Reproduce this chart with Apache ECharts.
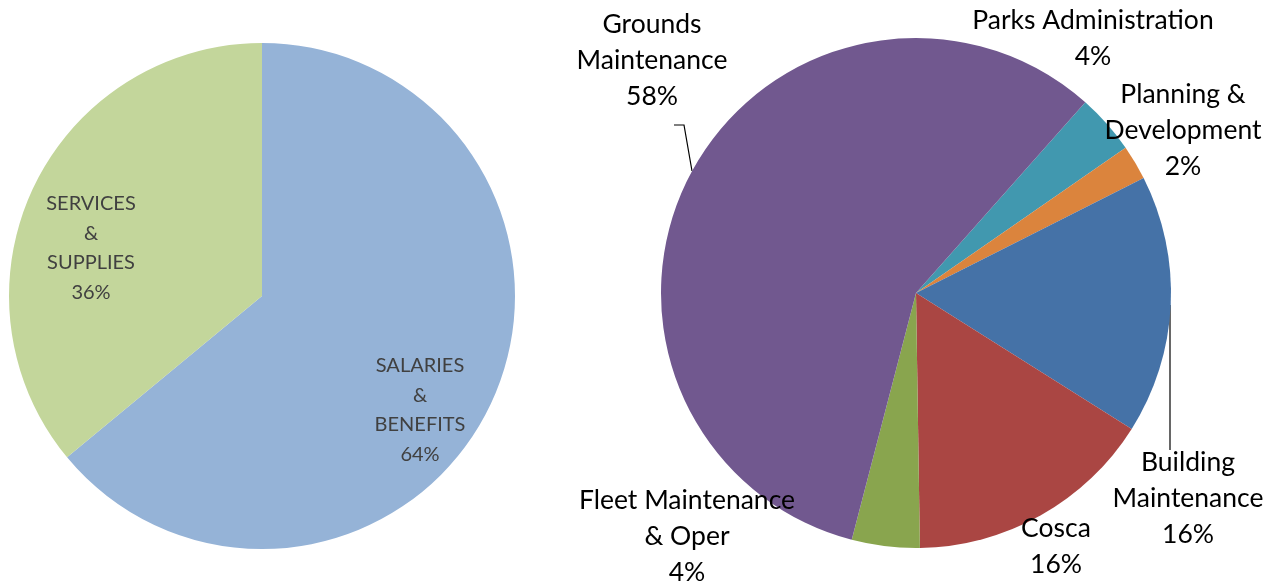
<!DOCTYPE html>
<html><head><meta charset="utf-8">
<script src="https://cdn.jsdelivr.net/npm/echarts@6/dist/echarts.min.js"></script>
<style>html,body{margin:0;padding:0;background:#fff}#c{width:1278px;height:588px}</style>
</head><body><div id="c"></div>
<script>
// Left pie: expense type
const typeNames = ['SALARIES\n&\nBENEFITS', 'SERVICES\n&\nSUPPLIES'];
const typeValues = [64, 36];
const typeColors = ['#95B3D7', '#C3D69B'];

// Right pie: division (clockwise from Parks Administration)
const divNames = ['Parks Administration', 'Planning &\nDevelopment', 'Building\nMaintenance', 'Cosca', 'Fleet Maintenance\n& Oper', 'Grounds\nMaintenance'];
const divValues = [3.8, 2.2, 16.4, 15.8, 4.3, 57.5];
const divColors = ['#4198AF', '#DB843D', '#4572A7', '#AA4643', '#89A54E', '#71588F'];

const leftLabelPos = [[420, 410], [91, 248]];
const rightLabelPos = [[1093, 38], [1183, 130], [1188, 498], [1056, 546], [687, 536], [652, 60]];

const FONT = 'Lato';
const chart = echarts.init(document.getElementById('c'));
chart.setOption({
  animation: false,
  series: [
    {
      type: 'pie',
      center: [262, 296],
      radius: 253,
      startAngle: 90,
      clockwise: true,
      data: typeNames.map((n, i) => ({ name: n, value: typeValues[i], itemStyle: { color: typeColors[i] } })),
      itemStyle: { borderWidth: 0 },
      label: {
        show: true, position: 'inside',
        formatter: p => p.name + '\n' + Math.round(p.percent) + '%',
        fontFamily: FONT, fontSize: 20, lineHeight: 29.5, color: '#404040', align: 'center'
      },
      labelLine: { show: false },
      labelLayout: p => ({ x: leftLabelPos[p.dataIndex][0], y: leftLabelPos[p.dataIndex][1], align: 'center', verticalAlign: 'middle' }),
      emphasis: { disabled: true }
    },
    {
      type: 'pie',
      center: [916, 293],
      radius: 255,
      startAngle: 48.4,
      clockwise: true,
      data: divNames.map((n, i) => ({ name: n, value: divValues[i], itemStyle: { color: divColors[i] } })),
      itemStyle: { borderWidth: 0 },
      label: {
        show: true, position: 'inside', overflow: 'none',
        formatter: p => p.name + '\n' + Math.round(p.percent) + '%',
        fontFamily: FONT, fontSize: 26.5, lineHeight: 36, color: '#000', align: 'center'
      },
      labelLine: { show: false },
      labelLayout: p => ({ x: rightLabelPos[p.dataIndex][0], y: rightLabelPos[p.dataIndex][1], align: 'center', verticalAlign: 'middle' }),
      emphasis: { disabled: true }
    }
  ],
  graphic: [
    { type: 'polyline', shape: { points: [[674, 125], [684, 125], [692, 171]] }, style: { stroke: '#000', lineWidth: 1.2, fill: null } },
    { type: 'line', shape: { x1: 1170, y1: 305, x2: 1170, y2: 450 }, style: { stroke: '#000', lineWidth: 1.2 } }
  ]
});
</script></body></html>
